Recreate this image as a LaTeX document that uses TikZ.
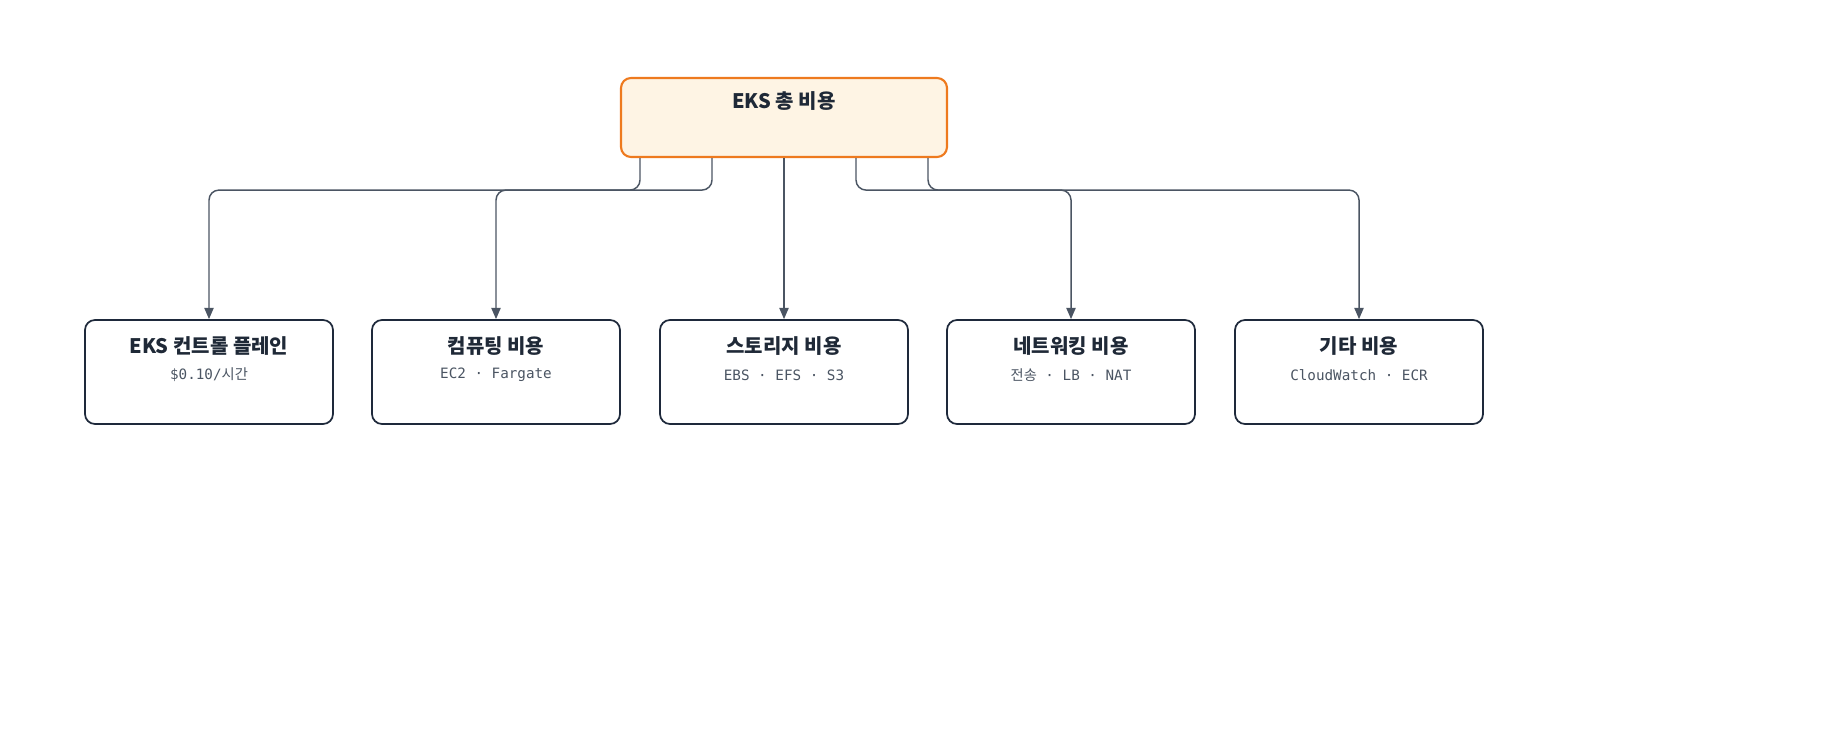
\documentclass[tikz,border=0pt]{standalone}
\usepackage{fontspec}
\setmainfont{Noto Sans CJK KR}
\newfontfamily\cjk{Noto Sans CJK KR}
\newfontfamily\mono{DejaVu Sans Mono}
\usetikzlibrary{arrows.meta}
\definecolor{topfill}{HTML}{FEF4E4}
\definecolor{topline}{HTML}{EE7A1E}
\definecolor{boxline}{HTML}{1E293B}
\definecolor{txt}{HTML}{1F2937}
\definecolor{subtxt}{HTML}{4B5563}
\definecolor{conn}{HTML}{4B5563}
\tikzset{
  rootbox/.style={draw=topline, fill=topfill, line width=1.6pt, rounded corners=7.5pt, minimum width=244.5pt, minimum height=59.25pt, inner sep=0pt},
  leafbox/.style={draw=boxline, fill=white, line width=1.3pt, rounded corners=7.5pt, minimum width=186pt, minimum height=78pt, inner sep=0pt},
  ttl/.style={text=txt, font=\cjk\bfseries\fontsize{15}{17}\selectfont, inner sep=0pt},
  sub/.style={text=subtxt, font=\mono\fontsize{10.7}{12}\selectfont, inner sep=0pt},
  link/.style={draw=conn, line width=1.1pt, rounded corners=7.5pt, -{Triangle[length=8.5pt,width=7pt]}}
}
\newcommand{\kr}[1]{{\cjk\fontsize{10.7}{12}\selectfont #1}}
\begin{document}
\begin{tikzpicture}[x=0.75pt,y=-0.75pt]
\useasboundingbox (0,0) rectangle (1840,730);
\node[rootbox] (top) at (784,117.5) {};
\node[ttl] (toptext) at (784,101) {EKS 총 비용};

\node[leafbox] (b1) at (209,372) {};
\node[leafbox] (b2) at (496,372) {};
\node[leafbox] (b3) at (784,372) {};
\node[leafbox] (b4) at (1071,372) {};
\node[leafbox] (b5) at (1359,372) {};

\node[ttl] (t1) at (209,346) {EKS 컨트롤 플레인};
\node[ttl] (t2) at (496,346) {컴퓨팅 비용};
\node[ttl] (t3) at (784,346) {스토리지 비용};
\node[ttl] (t4) at (1071,346) {네트워킹 비용};
\node[ttl] (t5) at (1359,346) {기타 비용};

\node[sub] (s1) at (209,375) {\$0.10/\kr{시간}};
\node[sub] (s2) at (496,375) {EC2 · Fargate};
\node[sub] (s3) at (784,375) {EBS · EFS · S3};
\node[sub] (s4) at (1071,375) {\kr{전송} · LB · NAT};
\node[sub] (s5) at (1359,375) {CloudWatch · ECR};

\draw[link] ([xshift=-108pt]top.south) -- ++(0,32) -| (b1.north);
\draw[link] ([xshift=-54pt]top.south) -- ++(0,32) -| (b2.north);
\draw[link] (top.south) -- (b3.north);
\draw[link] ([xshift=54pt]top.south) -- ++(0,32) -| (b4.north);
\draw[link] ([xshift=108pt]top.south) -- ++(0,32) -| (b5.north);
\end{tikzpicture}
\end{document}
